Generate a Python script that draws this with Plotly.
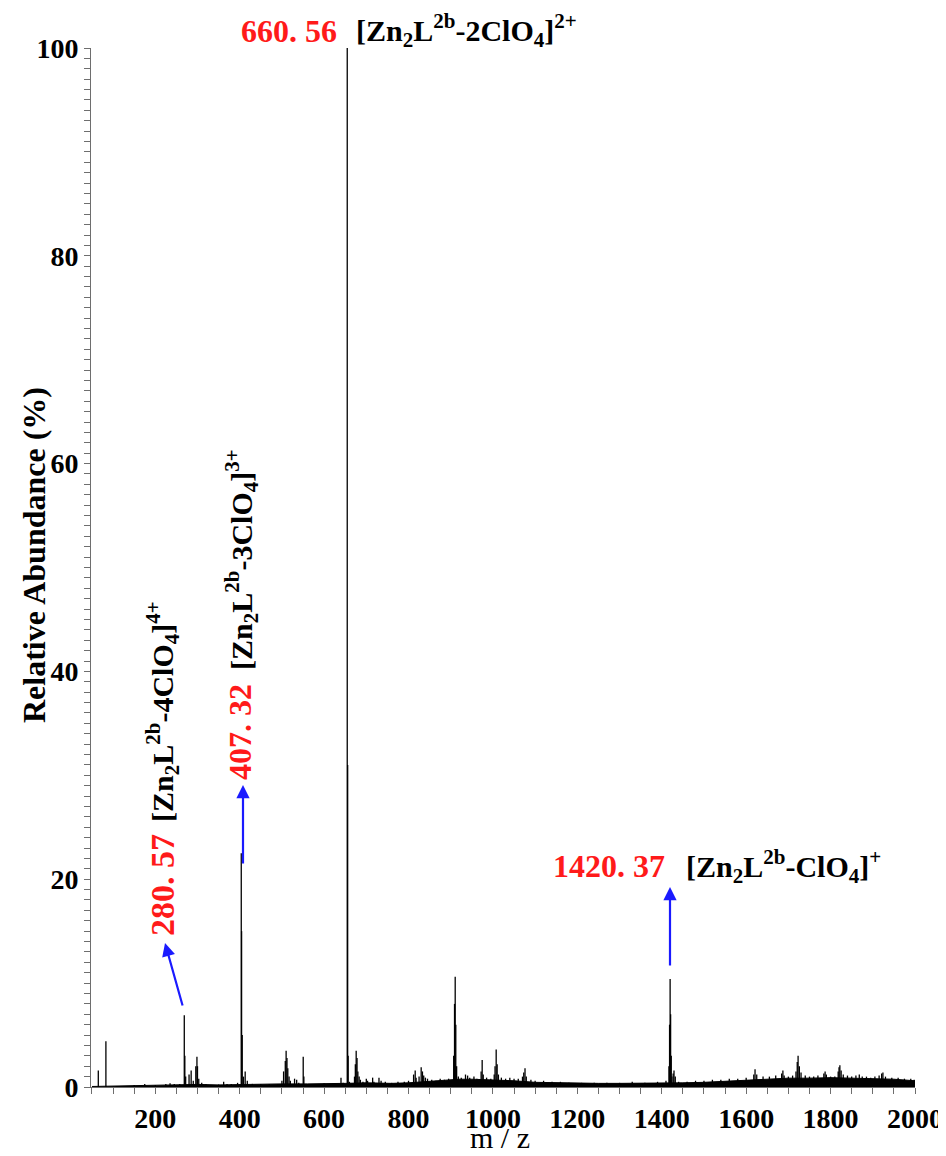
import plotly.graph_objects as go

# ---------------- data ----------------
peak_mz = [65, 83,
           150, 175, 200, 225, 235, 245, 258,
           268.7, 270, 272, 280, 285, 290, 296, 298.7, 300, 303, 310, 320,
           350, 362, 370, 380, 395,
           403.7, 404.5, 406, 409, 413, 418, 430, 450, 470, 490, 500, 504, 508, 510, 512, 514, 517, 520,
           530, 535, 540, 550.5, 552, 560, 580, 600, 620, 640, 645,
           654.8, 655.8, 657, 660,
           672, 674, 676, 678, 680, 683, 686, 692, 700, 703, 715, 718, 730, 735, 745, 760, 775, 790, 800,
           812, 815.8, 818, 825, 830, 833, 836, 840, 845, 855, 865, 875, 885, 895,
           907, 909, 910.6, 912, 914, 918, 925, 935, 940, 945, 955, 962,
           972, 974.5, 977, 985, 995, 1003, 1005, 1007.7, 1010, 1013, 1020, 1030, 1040, 1050, 1060,
           1070, 1073, 1076, 1079, 1090, 1100, 1120, 1140, 1160, 1180, 1210, 1240, 1270, 1300, 1330,
           1360, 1390, 1410,
           1417, 1418.5, 1419.8, 1421, 1422.5, 1424, 1427, 1429, 1432, 1440, 1460, 1480, 1500, 1520,
           1540, 1560, 1580, 1600,
           1618, 1621, 1625, 1640, 1655, 1670, 1684, 1687, 1690, 1700, 1710, 1718, 1721, 1723, 1726,
           1730, 1740, 1750, 1760, 1770, 1784, 1787, 1790, 1800, 1810, 1818, 1820, 1822, 1825, 1830,
           1840, 1850, 1860, 1868, 1875, 1885, 1895, 1905, 1915, 1921, 1924, 1930, 1945, 1960, 1975,
           1990, 1998]
peak_int = [1.6, 4.4,
            0.2, 0.3, 0.2, 0.3, 0.35, 0.3, 0.3,
            6.9, 3.0, 1.0, 1.2, 1.6, 0.6, 2.0, 2.9, 2.0, 0.8, 0.4, 0.3,
            0.25, 0.5, 0.3, 0.3, 0.4,
            22.5, 15.0, 5.0, 1.0, 1.5, 0.6, 0.3, 0.3, 0.3, 0.3, 0.6, 1.5, 2.5, 3.5, 2.8, 1.8, 1.0, 0.6,
            0.8, 0.7, 0.4, 2.9, 1.0, 0.3, 0.3, 0.35, 0.3, 0.9, 0.4,
            100.0, 31.0, 3.0, 0.5,
            1.0, 2.2, 3.5, 2.8, 1.5, 1.0, 0.7, 0.5, 0.8, 0.6, 0.9, 0.5, 0.9, 0.6, 0.5, 0.4, 0.5, 0.5, 0.6,
            1.2, 1.6, 0.9, 1.0, 1.9, 1.5, 1.1, 0.9, 0.8, 0.7, 0.6, 0.8, 0.7, 0.8,
            3.0, 8.0, 10.6, 6.0, 2.0, 1.0, 0.9, 1.2, 1.1, 0.9, 1.0, 0.8,
            1.5, 2.6, 1.2, 0.9, 0.8, 1.2, 2.0, 3.6, 2.2, 1.2, 0.9, 0.8, 0.9, 0.8, 0.8,
            1.0, 1.4, 1.8, 1.0, 0.7, 0.6, 0.6, 0.5, 0.5, 0.4, 0.4, 0.4, 0.4, 0.4, 0.5,
            0.4, 0.5, 0.6,
            2.0, 6.0, 10.4, 7.0, 3.0, 1.0, 1.3, 1.6, 1.0, 0.5, 0.5, 0.6, 0.6, 0.7,
            0.7, 0.8, 0.8, 0.9,
            1.2, 1.7, 1.2, 1.0, 1.0, 1.1, 1.3, 1.6, 1.1, 1.0, 1.1, 1.5, 2.4, 3.0, 2.0,
            1.4, 1.1, 1.0, 1.0, 1.1, 1.3, 1.5, 1.2, 1.0, 1.0, 1.5, 1.9, 2.1, 1.6, 1.2,
            1.1, 1.0, 1.1, 1.2, 1.0, 1.0, 0.9, 1.0, 1.1, 1.3, 1.4, 1.0, 0.9, 0.9, 0.8,
            0.8, 0.7]

# baseline "grass" envelope
base_mz = [50, 120, 200, 260, 300, 350, 400, 450, 500, 560, 600, 650, 700, 760, 800, 850, 900,
           920, 950, 1000, 1050, 1100, 1150, 1200, 1250, 1300, 1350, 1400, 1450, 1500, 1550, 1600,
           1650, 1700, 1750, 1800, 1850, 1900, 1950, 2000]
base_int = [0.05, 0.1, 0.15, 0.2, 0.25, 0.2, 0.25, 0.25, 0.3, 0.3, 0.3, 0.35, 0.4, 0.35, 0.4, 0.55, 0.65,
            0.75, 0.75, 0.7, 0.6, 0.45, 0.4, 0.35, 0.35, 0.35, 0.35, 0.35, 0.4, 0.45, 0.55, 0.65,
            0.8, 0.85, 0.85, 0.9, 0.85, 0.8, 0.75, 0.6]

x_ticks = [200, 400, 600, 800, 1000, 1200, 1400, 1600, 1800, 2000]
y_ticks = [0, 20, 40, 60, 80, 100]

# ---------------- layout geometry ----------------
# The page body has an 8px default margin, so the figure is drawn 8px in from the top-left.
OFF = 8
W, H = 946 - OFF, 1156 - OFF
# plot-area edges in screen pixels
SL, SR, ST, SB = 91, 915, 48, 1087
L, R, T, B = SL - OFF, SR - OFF, ST - OFF, SB - OFF
X0, X1 = 47.7, 2000.0
Y0, Y1 = 0.0, 100.0


def px_x(px):
    return X0 + (px - SL) * (X1 - X0) / (SR - SL)


def px_y(py):
    return Y0 + (SB - py) * (Y1 - Y0) / (SB - ST)


def pp_x(px):
    return (px - SL) / (SR - SL)


def pp_y(py):
    return (SB - py) / (SB - ST)


FONT = "Liberation Serif, Times New Roman, serif"

# stick spectrum
sx, sy = [], []
for m, h in zip(peak_mz, peak_int):
    sx += [m, m, None]
    sy += [0, h, None]

fig = go.Figure()
fig.add_trace(go.Scatter(x=base_mz, y=base_int, mode="lines", fill="tozeroy",
                         fillcolor="black", line=dict(color="black", width=1),
                         hoverinfo="skip", showlegend=False))
fig.add_trace(go.Scatter(x=sx, y=sy, mode="lines", line=dict(color="black", width=1.3),
                         showlegend=False))

red = "#ff1a1a"
blue = "#1a1aff"
anns = []
RED_SZ = 32
FORM_SZ = 30


def txt(x, y, s, color, xanchor="center", yanchor="middle", angle=0, size=FORM_SZ,
        xref="x", yref="y"):
    anns.append(dict(x=x, y=y, xref=xref, yref=yref, text=s, showarrow=False,
                     xanchor=xanchor, yanchor=yanchor, textangle=angle,
                     font=dict(family=FONT, size=size, color=color)))


def arrow(x_tip, y_tip, x_tail, y_tail):
    anns.append(dict(x=x_tip, y=y_tip, xref="x", yref="y", ax=x_tail, ay=y_tail,
                     axref="x", ayref="y", text="", showarrow=True, arrowhead=2,
                     arrowsize=1.2, arrowwidth=2.2, arrowcolor=blue))


# top label (above plot area -> paper coordinates)
txt(pp_x(339), pp_y(31), "<b>660. 56</b>", red, xanchor="right", size=RED_SZ,
    xref="paper", yref="paper")
txt(pp_x(354), pp_y(31), "<b>[Zn<sub>2</sub>L<sup>2b</sup>-2ClO<sub>4</sub>]<sup>2+</sup></b>", "black",
    xanchor="left", xref="paper", yref="paper")
# 1420 label
txt(px_x(667), px_y(866), "<b>1420. 37</b>", red, xanchor="right", size=RED_SZ)
txt(px_x(684), px_y(866), "<b>[Zn<sub>2</sub>L<sup>2b</sup>-ClO<sub>4</sub>]<sup>+</sup></b>", "black",
    xanchor="left")
# rotated labels
txt(px_x(162), px_y(885), "<b>280. 57</b>", red, angle=-90, size=34)
txt(px_x(162), px_y(712), "<b>[Zn<sub>2</sub>L<sup>2b</sup>-4ClO<sub>4</sub>]<sup>4+</sup></b>", "black",
    angle=-90)
txt(px_x(240), px_y(732), "<b>407. 32</b>", red, angle=-90, size=RED_SZ)
txt(px_x(241), px_y(560), "<b>[Zn<sub>2</sub>L<sup>2b</sup>-3ClO<sub>4</sub>]<sup>3+</sup></b>", "black",
    angle=-90)

# arrows
arrow(px_x(165), px_y(943), px_x(183), px_y(1007))
arrow(px_x(243), px_y(785), px_x(243), px_y(865))
arrow(px_x(670), px_y(887), px_x(670), px_y(967))

# axis titles
txt(pp_x(34), pp_y(555), "<b>Relative Abundance (%)</b>", "black", angle=-90, size=32,
    xref="paper", yref="paper")
txt(pp_x(500), pp_y(1137), "m / z", "black", size=30, xref="paper", yref="paper")

axis_col = "#6e6e6e"
fig.update_layout(
    width=W, height=H,
    margin=dict(l=L, r=W - R, t=T, b=H - B, pad=0, autoexpand=False),
    paper_bgcolor="white", plot_bgcolor="white",
    font=dict(family=FONT, color="black"),
    annotations=anns,
    xaxis=dict(range=[X0, X1], showgrid=False, zeroline=False, showline=True, automargin=False,
               linecolor=axis_col, linewidth=1, ticks="outside", ticklen=6, tickwidth=1,
               tickcolor=axis_col, tickvals=x_ticks, ticktext=[f"<b>{v}</b>" for v in x_ticks],
               tickfont=dict(family=FONT, size=28, color="black"),
               minor=dict(dtick=50, tick0=0, ticks="outside", ticklen=6, tickcolor=axis_col,
                          showgrid=False)),
    yaxis=dict(range=[Y0, Y1], showgrid=False, zeroline=False, showline=True, automargin=False,
               linecolor=axis_col, linewidth=1, ticks="outside", ticklen=6, tickwidth=1,
               tickcolor=axis_col, tickvals=y_ticks, ticktext=[f"<b>{v}</b>" for v in y_ticks],
               tickfont=dict(family=FONT, size=28, color="black"),
               minor=dict(dtick=1, tick0=0, ticks="outside", ticklen=6, tickcolor=axis_col,
                          showgrid=False)),
)

fig.write_html("out.html")
